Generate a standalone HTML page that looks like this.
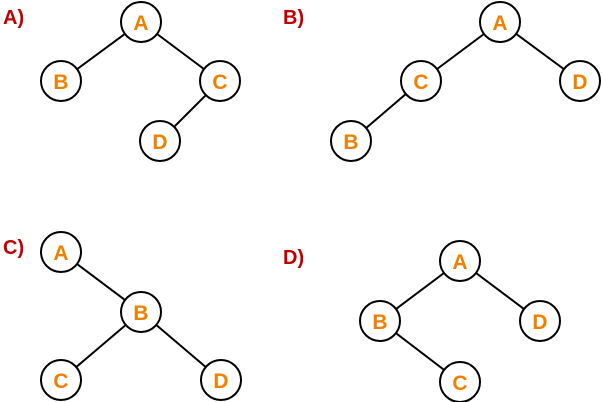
<!DOCTYPE html>
<html><head><style>body{margin:0;background:#fff}svg{display:block}
.l{font:bold 20px "Liberation Sans",sans-serif;fill:#c00000}
.n{font:bold 21px "Liberation Sans",sans-serif;fill:#f08000;text-anchor:middle}
</style></head><body>
<svg width="602" height="402" xmlns="http://www.w3.org/2000/svg">
<text class="l" x="3" y="24">A)</text>
<text class="l" x="283" y="24">B)</text>
<text class="l" x="3" y="254">C)</text>
<text class="l" x="283" y="264">D)</text>
<g stroke="#000" stroke-width="2">
<line x1="141" y1="22" x2="61" y2="81"/><line x1="141" y1="22" x2="220" y2="81"/><line x1="220" y1="81" x2="160" y2="141"/>
<line x1="500" y1="22" x2="421" y2="81"/><line x1="500" y1="22" x2="580" y2="81"/><line x1="421" y1="81" x2="351" y2="141"/>
<line x1="61" y1="252" x2="141" y2="312"/><line x1="141" y1="312" x2="61" y2="380"/><line x1="141" y1="312" x2="221" y2="380"/>
<line x1="460" y1="261" x2="380" y2="321"/><line x1="460" y1="261" x2="540" y2="321"/><line x1="380" y1="321" x2="460" y2="382"/>
</g>
<g fill="#fff" stroke="#000" stroke-width="2">
<circle cx="141" cy="22" r="20"/><circle cx="61" cy="81" r="20"/><circle cx="220" cy="81" r="20"/><circle cx="160" cy="141" r="20"/>
<circle cx="500" cy="22" r="20"/><circle cx="421" cy="81" r="20"/><circle cx="580" cy="81" r="20"/><circle cx="351" cy="141" r="20"/>
<circle cx="61" cy="252" r="20"/><circle cx="141" cy="312" r="20"/><circle cx="61" cy="380" r="20"/><circle cx="221" cy="380" r="20"/>
<circle cx="460" cy="261" r="20"/><circle cx="380" cy="321" r="20"/><circle cx="540" cy="321" r="20"/><circle cx="460" cy="382" r="20"/>
</g>
<text class="n" x="141" y="30">A</text><text class="n" x="61" y="89">B</text><text class="n" x="220" y="89">C</text><text class="n" x="160" y="149">D</text>
<text class="n" x="500" y="30">A</text><text class="n" x="421" y="89">C</text><text class="n" x="580" y="89">D</text><text class="n" x="351" y="149">B</text>
<text class="n" x="61" y="260">A</text><text class="n" x="141" y="320">B</text><text class="n" x="61" y="388">C</text><text class="n" x="221" y="388">D</text>
<text class="n" x="460" y="269">A</text><text class="n" x="380" y="329">B</text><text class="n" x="540" y="329">D</text><text class="n" x="460" y="390">C</text>
</svg>
</body></html>
